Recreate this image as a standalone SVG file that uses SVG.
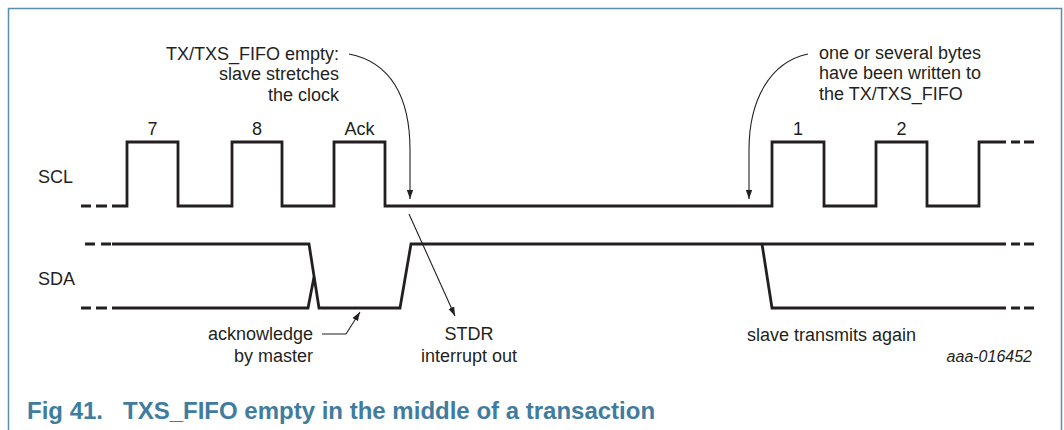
<svg xmlns="http://www.w3.org/2000/svg" width="1064" height="430" viewBox="0 0 1064 430">
<defs>
<marker id="ah" viewBox="0 0 10 10" refX="10" refY="5" markerWidth="9" markerHeight="9" markerUnits="userSpaceOnUse" orient="auto">
<path d="M0,1.5 L10,5 L0,8.5 Z" fill="#231f20"/>
</marker>
<style>
.t{font-family:"Liberation Sans",Arial,sans-serif;font-size:18px;fill:#231f20}
.sig{fill:none;stroke:#231f20;stroke-width:2.8;stroke-linejoin:miter}
.con{fill:none;stroke:#231f20;stroke-width:1.1;marker-end:url(#ah)}
.ttl{font-family:"Liberation Sans",Arial,sans-serif;font-size:24px;font-weight:bold;fill:#3f7c9f}
</style>
</defs>
<rect x="0" y="0" width="1064" height="430" fill="#ffffff"/>
<path d="M8.5,440 V8.5 H1061.5 V440" fill="none" stroke="#5b8db0" stroke-width="1.5"/>

<g id="scl">
<text class="t" x="38" y="183">SCL</text>
<path class="sig" d="M81,206 H91 M96,206 H107 M112,206 H127 V142 H178 V206 H232 V142 H282 V206 H334 V142 H385 V206 H772 V142 H824 V206 H876 V142 H927 V206 H979 V142 H1006 M1011,142 H1020 M1024,142 H1034"/>
<g class="t" text-anchor="middle">
<text x="152.5" y="134.5">7</text>
<text x="257" y="134.5">8</text>
<text x="359.5" y="134.5">Ack</text>
<text x="798" y="134.5">1</text>
<text x="901.5" y="134.5">2</text>
</g>
</g>

<g id="sda">
<text class="t" x="38" y="285">SDA</text>
<path class="sig" d="M85,244 H95 M101,244 H111 M112,244 H309 L319,308 H400 L411,244 H1006 M1011,244 H1020 M1024,244 H1034"/>
<path class="sig" d="M81,308 H91 M96,308 H107 M112,308 H308 L314,277"/>
<path class="sig" d="M762,244 L772,308 H1006 M1011,308 H1020 M1024,308 H1034"/>
</g>

<g id="note-empty" class="t" text-anchor="end">
<text x="339" y="59.5">TX/TXS_FIFO empty:</text>
<text x="339" y="80">slave stretches</text>
<text x="339" y="100.5">the clock</text>
</g>

<g id="note-written" class="t">
<text x="819" y="58.5">one or several bytes</text>
<text x="819" y="79">have been written to</text>
<text x="819" y="100">the TX/TXS_FIFO</text>
</g>

<g id="note-ack" class="t" text-anchor="end">
<text x="313" y="340">acknowledge</text>
<text x="313" y="362">by master</text>
</g>

<g id="note-stdr" class="t" text-anchor="middle">
<text x="469" y="340">STDR</text>
<text x="469" y="362">interrupt out</text>
</g>

<g id="note-again" class="t">
<text x="747" y="341">slave transmits again</text>
</g>

<g id="connectors">
<path class="con" d="M349,54 C390,62 410,96 410,150 L410,199"/>
<path class="con" d="M808,54 C770,62 749,100 749,150 L749,199"/>
<path class="con" d="M409,214 L455,316"/>
<path class="con" d="M322,334 H346 L360,312"/>
</g>

<text x="1032" y="362" text-anchor="end" style="font-family:'Liberation Sans',Arial,sans-serif;font-size:16px;font-style:italic;fill:#231f20">aaa-016452</text>

<g id="caption">
<text class="ttl" x="27" y="419">Fig 41.</text>
<text class="ttl" x="123" y="419">TXS_FIFO empty in the middle of a transaction</text>
</g>
</svg>
